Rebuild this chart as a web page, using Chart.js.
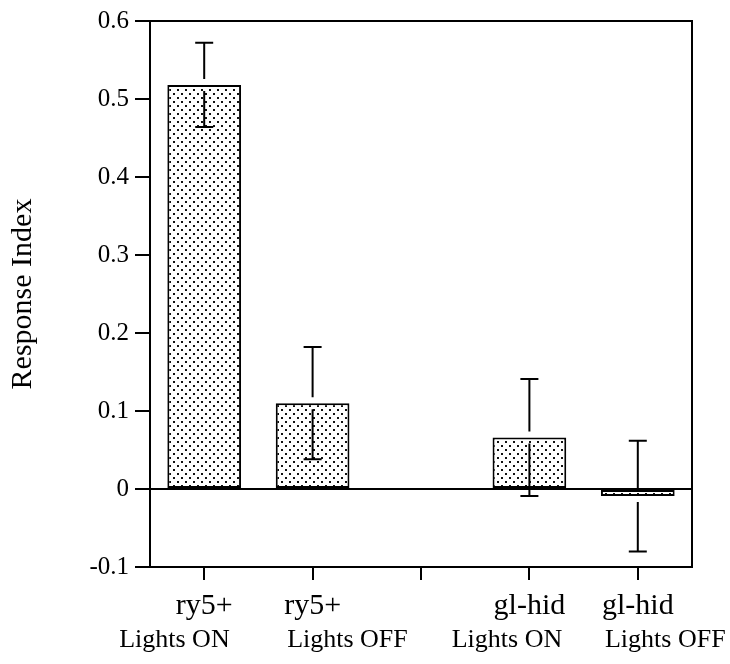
<!DOCTYPE html>
<html>
<head>
<meta charset="utf-8">
<script src="https://cdn.jsdelivr.net/npm/chart.js@4/dist/chart.umd.min.js"></script>
<style>
  body { margin: 0; background: #fff; }
  #wrap { width: 730px; height: 664px; }
</style>
</head>
<body>
<div id="wrap"><canvas id="myBarChart" width="730" height="664"></canvas></div>
<script>
// -- data
var genotypes = ['ry5+', 'ry5+', '', 'gl-hid', 'gl-hid'];
var conditions = ['Lights ON', 'Lights OFF', '', 'Lights ON', 'Lights OFF'];
var responseIndex = [0.518, 0.110, null, 0.066, -0.009];
var errors = [0.054, 0.072, null, 0.075, 0.071];
var yTicks = [-0.1, 0, 0.1, 0.2, 0.3, 0.4, 0.5, 0.6];

var serif = "'Liberation Serif', 'Times New Roman', serif";
var genoFont = '30px ' + serif;

// stipple fill like the printed figure
var tile = document.createElement('canvas');
tile.width = 8;
tile.height = 8;
var tctx = tile.getContext('2d');
tctx.fillStyle = '#fff';
tctx.fillRect(0, 0, 8, 8);
tctx.fillStyle = '#111';
tctx.fillRect(1, 1, 2, 2);
tctx.fillRect(5, 5, 2, 2);
var dots = tctx.createPattern(tile, 'repeat');

var errorBars = {
  id: 'errorBars',
  afterDatasetsDraw: function (chart) {
    var ctx = chart.ctx;
    var y = chart.scales.y;
    var meta = chart.getDatasetMeta(0);
    ctx.save();
    ctx.strokeStyle = '#000';
    ctx.lineWidth = 2;
    meta.data.forEach(function (bar, i) {
      if (responseIndex[i] == null) return;
      var yMid = y.getPixelForValue(responseIndex[i]);
      var yHi = y.getPixelForValue(responseIndex[i] + errors[i]);
      var yLo = y.getPixelForValue(responseIndex[i] - errors[i]);
      var x = bar.x;
      ctx.beginPath();
      ctx.moveTo(x, yHi);
      ctx.lineTo(x, yMid - 6);
      ctx.moveTo(x, yMid + 6);
      ctx.lineTo(x, yLo);
      ctx.moveTo(x - 9, yHi);
      ctx.lineTo(x + 9, yHi);
      ctx.moveTo(x - 9, yLo);
      ctx.lineTo(x + 9, yLo);
      ctx.stroke();
    });
    ctx.restore();
  }
};

// top/right frame and the second label line ("Lights ON" right-aligned,
// "Lights OFF" left-aligned with the genotype above, as in the print)
var frameAndSubLabels = {
  id: 'frameAndSubLabels',
  afterDraw: function (chart) {
    var ctx = chart.ctx;
    var a = chart.chartArea;
    var xs = chart.scales.x;
    ctx.save();
    ctx.strokeStyle = '#000';
    ctx.lineWidth = 2;
    ctx.beginPath();
    ctx.moveTo(a.left - 1, a.top);
    ctx.lineTo(a.right, a.top);
    ctx.lineTo(a.right, a.bottom + 1);
    ctx.stroke();
    ctx.fillStyle = '#000';
    ctx.textBaseline = 'middle';
    conditions.forEach(function (c, i) {
      if (!c) return;
      ctx.font = genoFont;
      var half = ctx.measureText(genotypes[i]).width / 2;
      var x = xs.getPixelForValue(i);
      ctx.font = '26px ' + serif;
      if (c.indexOf('OFF') >= 0) {
        ctx.textAlign = 'left';
        ctx.fillText(c, x - half + 3, 640);
      } else {
        ctx.textAlign = 'right';
        ctx.fillText(c, x + half - 3, 640);
      }
    });
    ctx.restore();
  }
};

var ctx2 = document.getElementById('myBarChart');

var myBarChart = new Chart(ctx2, {
  type: 'bar',
  data: {
    labels: genotypes,
    datasets: [{
      data: responseIndex,
      backgroundColor: dots,
      borderColor: '#000',
      borderWidth: 2,
      borderSkipped: false,
      barPercentage: 0.68,
      categoryPercentage: 1.0
    }]
  },
  options: {
    responsive: false,
    animation: false,
    devicePixelRatio: 1,
    events: [],
    layout: { padding: { top: 18, right: 38, bottom: 0, left: 0 } },
    plugins: {
      legend: { display: false },
      tooltip: { enabled: false }
    },
    scales: {
      x: {
        afterFit: function (s) { s.height = 97; },
        grid: {
          offset: false,
          drawOnChartArea: false,
          tickColor: '#000',
          tickLength: 13,
          lineWidth: 2
        },
        border: { display: true, color: '#000', width: 2 },
        ticks: {
          color: '#000',
          font: { family: serif, size: 30 },
          padding: 8,
          maxRotation: 0,
          autoSkip: false
        }
      },
      y: {
        min: -0.1,
        max: 0.6,
        afterFit: function (s) { s.width = 150; },
        afterBuildTicks: function (s) {
          s.ticks = yTicks.map(function (v) { return { value: v }; });
        },
        grid: {
          color: function (c) {
            return c.tick && Math.abs(c.tick.value) < 1e-9 ? '#000' : 'rgba(0,0,0,0)';
          },
          tickColor: '#000',
          tickLength: 15,
          lineWidth: 2
        },
        border: { display: true, color: '#000', width: 2 },
        ticks: {
          color: '#000',
          font: { family: serif, size: 25 },
          padding: 6,
          callback: function (v) {
            var r = Math.round(v * 10) / 10;
            return r === 0 ? '0' : r.toFixed(1);
          }
        },
        title: {
          display: true,
          text: 'Response Index',
          color: '#000',
          font: { family: serif, size: 30 },
          padding: { top: 5, bottom: 0 }
        }
      }
    }
  },
  plugins: [errorBars, frameAndSubLabels]
});
</script>
</body>
</html>
